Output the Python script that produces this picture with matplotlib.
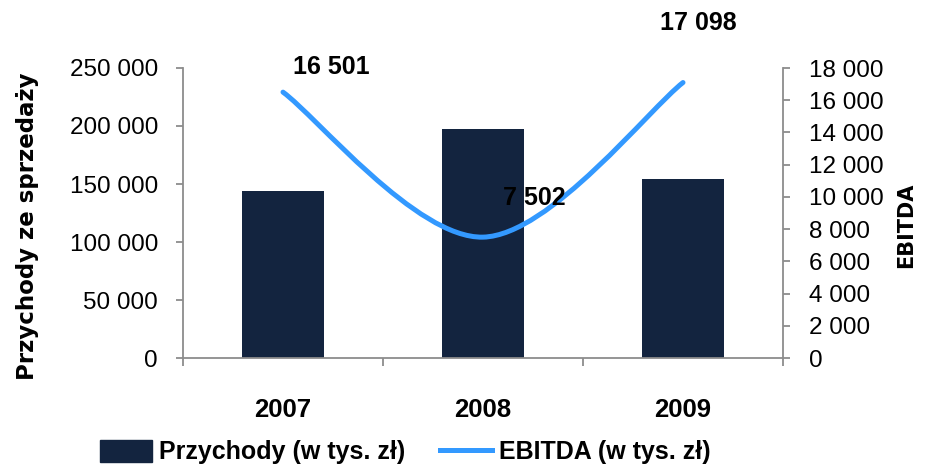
import numpy as np
import matplotlib
matplotlib.use('Agg')
import matplotlib.pyplot as plt
from matplotlib.path import Path
from matplotlib.patches import PathPatch, Patch
from matplotlib.lines import Line2D

years = ['2007', '2008', '2009']
przychody = [143800, 197300, 154600]
ebitda = [16501, 7502, 17098]
left_ticks = [0, 50000, 100000, 150000, 200000, 250000]
right_ticks = [0, 2000, 4000, 6000, 8000, 10000, 12000, 14000, 16000, 18000]

BAR = '#13243f'
LINE = '#3399ff'
GREY = '#8c8c8c'
FONT = 'Liberation Sans'

def fmt(v):
    return '{:,}'.format(int(v)).replace(',', ' ')

fig = plt.figure(figsize=(9.25, 4.69), dpi=100)
ax = fig.add_axes([183/925, 1-358/469, 600/925, 290/469])
ax2 = ax.twinx()

x = np.arange(len(years))
ax.bar(x, przychody, width=0.41, color=BAR, zorder=2)
ax.set_xlim(-0.5, 2.5)
ax.set_ylim(0, 250000)
ax2.set_ylim(0, 18000)

# smoothed line, bezier through the points like excel does
pts = np.column_stack([x, ebitda]).astype(float)
verts = [tuple(pts[0])]
codes = [Path.MOVETO]
n = len(pts)
for i in range(n - 1):
    p0 = pts[max(i - 1, 0)]
    p1 = pts[i]
    p2 = pts[i + 1]
    p3 = pts[min(i + 2, n - 1)]
    c1 = p1 + (p2 - p0) / 6.0
    c2 = p2 - (p3 - p1) / 6.0
    verts += [tuple(c1), tuple(c2), tuple(p2)]
    codes += [Path.CURVE4] * 3
ax2.add_patch(PathPatch(Path(verts, codes), facecolor='none', edgecolor=LINE,
                        lw=3.6, capstyle='round', zorder=3))

# data labels
offsets = [(35, 18), (37, 28), (11, 43)]
for xi, v, off in zip(x, ebitda, offsets):
    ax2.annotate(fmt(v), (xi, v), xytext=off, textcoords='offset points',
                 ha='center', va='center', fontsize=18, fontweight='bold',
                 family=FONT, color='black')

# axes
for a in (ax, ax2):
    for s in a.spines.values():
        s.set_visible(False)
ax.spines['left'].set_visible(True)
ax.spines['bottom'].set_visible(True)
ax2.spines['right'].set_visible(True)
for s in (ax.spines['left'], ax.spines['bottom'], ax2.spines['right']):
    s.set_color(GREY)
    s.set_linewidth(1.3)

ax.set_yticks(left_ticks)
ax.set_yticklabels([fmt(v) for v in left_ticks])
ax2.set_yticks(right_ticks)
ax2.set_yticklabels([fmt(v) for v in right_ticks])
ax.tick_params(axis='y', direction='out', length=5, width=1.3, color=GREY,
               pad=13, labelsize=17.5)
ax2.tick_params(axis='y', direction='out', length=5, width=1.3, color=GREY,
                pad=14, labelsize=17.5)
for lab in ax.get_yticklabels() + ax2.get_yticklabels():
    lab.set_family(FONT)

ax.set_xticks([-0.5, 0.5, 1.5, 2.5])
ax.set_xticklabels([])
ax.tick_params(axis='x', which='major', direction='out', length=6, width=1.3, color=GREY)
ax.set_xticks(x, minor=True)
ax.set_xticklabels(years, minor=True)
ax.tick_params(axis='x', which='minor', length=0, pad=29, labelsize=18.5)
for lab in ax.get_xticklabels(minor=True):
    lab.set_family(FONT)
    lab.set_fontweight('bold')

fig.text(28/925, 1-226/469, 'Przychody ze sprzedaży', rotation=90, ha='center',
         va='center', fontsize=16.5, fontweight='bold', family='DejaVu Sans')
fig.text(906/925, 1-225/469, 'EBITDA', rotation=90, ha='center', va='center',
         fontsize=15, fontweight='bold', family='DejaVu Sans')

handles = [Patch(facecolor=BAR, edgecolor=BAR),
           Line2D([0], [0], color=LINE, lw=3.6)]
fig.legend(handles, ['Przychody (w tys. zł)', 'EBITDA (w tys. zł)'],
           loc='center', bbox_to_anchor=(405/925, 1-452/469), ncol=2,
           frameon=False, prop={'family': FONT, 'weight': 'bold', 'size': 18},
           handlelength=2.1, handleheight=1.0, handletextpad=0.25,
           columnspacing=1.4, borderpad=0, borderaxespad=0)

fig.savefig('out.png', dpi=100, facecolor='white')
